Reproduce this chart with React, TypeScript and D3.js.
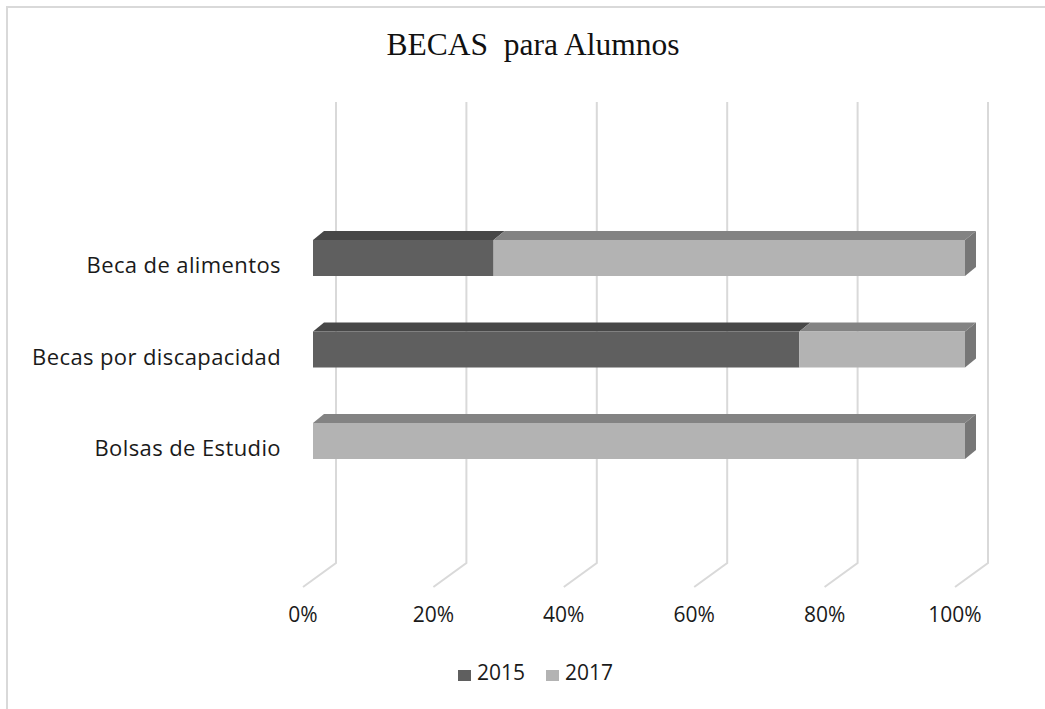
import React from "react";
import * as d3 from "d3";

const categories = ["Beca de alimentos", "Becas por discapacidad", "Bolsas de Estudio"];
const series2015 = [27.7, 74.6, 0];
const series2017 = [72.3, 25.4, 100];
const seriesNames = ["2015", "2017"];
const tickValues = [0, 0.2, 0.4, 0.6, 0.8, 1];

const W = 1045;
const H = 709;

export default function App() {
  const x = d3.scaleLinear().domain([0, 1]).range([303, 955]);
  const y = d3.scalePoint<string>().domain(categories).range([266, 449]);
  const wallDx = 33, wallDy = 24;
  const barOffX = 10, barOffY = 8;
  const depthX = 11, depthY = 9;
  const barH = 36;
  const wallTop = 102, wallBottom = 563;

  const fronts = ["#5f5f5f", "#b3b3b3"];
  const tops = ["#474747", "#838383"];
  const sideColor = "#777777";
  const fmt = d3.format(".0%");

  const stacked = categories.map((c, i) => {
    const vals = [series2015[i], series2017[i]];
    const total = d3.sum(vals);
    let acc = 0;
    return vals.map((v, k) => {
      const s = acc / total;
      acc += v;
      return { c, k, s, e: acc / total };
    });
  });

  const fontSans = "'Open Sans', 'Liberation Sans', Arial, sans-serif";

  return (
    <svg width={W} height={H} style={{ position: "absolute", left: 0, top: 0 }}>
      <rect x={0} y={0} width={W} height={H} fill="#fff" />
      <rect x={7} y={7} width={W + 20} height={H + 20} fill="none" stroke="#d9d9d9" strokeWidth={2} />
      <text
        x={533}
        y={55}
        textAnchor="middle"
        fontFamily="'Liberation Serif', 'Times New Roman', serif"
        fontSize={31.5}
        fill="#111"
        style={{ whiteSpace: "pre" }}
      >
        {"BECAS  para Alumnos"}
      </text>
      {tickValues.map((t) => (
        <g key={t}>
          <polyline
            points={`${x(t) + wallDx},${wallTop} ${x(t) + wallDx},${wallBottom} ${x(t)},${wallBottom + wallDy}`}
            fill="none"
            stroke="#d9d9d9"
            strokeWidth={2}
          />
          <text x={x(t)} y={622} textAnchor="middle" fontFamily={fontSans} fontSize={21} fill="#1a1a1a">
            {fmt(t)}
          </text>
        </g>
      ))}
      {stacked.map((segs) =>
        segs.map((sg) => {
          const cy = (y(sg.c) as number) - barOffY;
          const y0 = cy - barH / 2;
          const x0 = x(sg.s) + barOffX;
          const x1 = x(sg.e) + barOffX;
          if (x1 - x0 <= 0) return null;
          const isLast = sg.k === segs.length - 1;
          return (
            <g key={sg.c + sg.k}>
              <polygon
                points={`${x0},${y0} ${x0 + depthX},${y0 - depthY} ${x1 + depthX},${y0 - depthY} ${x1},${y0}`}
                fill={tops[sg.k]}
              />
              <rect x={x0} y={y0} width={x1 - x0} height={barH} fill={fronts[sg.k]} />
              {isLast && (
                <polygon
                  points={`${x1},${y0} ${x1 + depthX},${y0 - depthY} ${x1 + depthX},${y0 + barH - depthY} ${x1},${y0 + barH}`}
                  fill={sideColor}
                />
              )}
            </g>
          );
        })
      )}
      {categories.map((c) => (
        <text
          key={c}
          x={281}
          y={(y(c) as number) + 7}
          textAnchor="end"
          fontFamily={fontSans}
          fontSize={22}
          letterSpacing={0.4}
          fill="#1a1a1a"
        >
          {c}
        </text>
      ))}
      {seriesNames.map((n, i) => {
        const lx = 458 + i * 88;
        return (
          <g key={n}>
            <rect x={lx} y={670} width={13} height={11} fill={fronts[i]} />
            <text x={lx + 19} y={680} fontFamily={fontSans} fontSize={21} fill="#1a1a1a">
              {n}
            </text>
          </g>
        );
      })}
    </svg>
  );
}
